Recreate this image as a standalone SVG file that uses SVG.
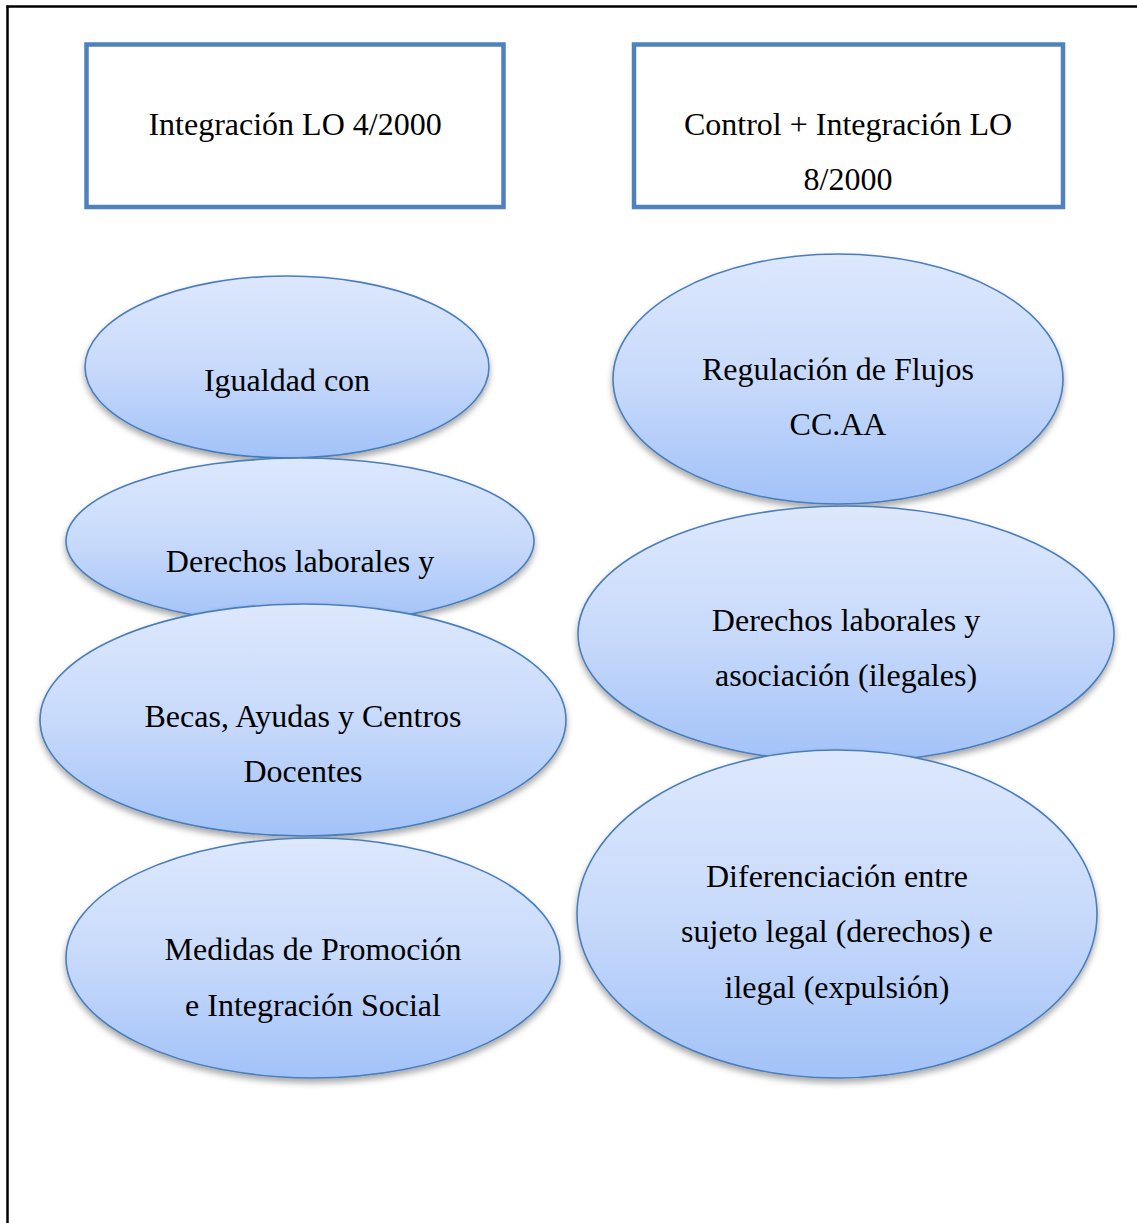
<svg xmlns="http://www.w3.org/2000/svg" width="1137" height="1223" viewBox="0 0 1137 1223">
<style>
.box{fill:#ffffff;stroke:#4f81bd;stroke-width:4.5}
.ell{fill:url(#g);stroke:#4a7ebb;stroke-width:1.6;filter:url(#sh)}
.t{font-family:"Liberation Serif","Times New Roman",serif;font-size:32px;fill:#000;text-anchor:middle}
</style>
<defs>
<linearGradient id="g" x1="0" y1="0" x2="0" y2="1">
<stop offset="0" stop-color="#dde8fd"/>
<stop offset="0.5" stop-color="#c8dafb"/>
<stop offset="1" stop-color="#a2c2f8"/>
</linearGradient>
<filter id="sh" x="-10%" y="-10%" width="120%" height="130%">
<feDropShadow dx="0" dy="4" stdDeviation="3" flood-color="#000" flood-opacity="0.35"/>
</filter>
</defs>
<g id="frame">
<line x1="6.5" y1="6.5" x2="1137" y2="6.5" stroke="#000" stroke-width="2.5"/>
<line x1="7.5" y1="5.5" x2="7.5" y2="1223" stroke="#000" stroke-width="2.5"/>
</g>
<g id="connectors"></g>
<g id="box-lo4">
<rect class="box" x="86.5" y="44.5" width="417" height="162.5"/>
<text class="t" x="295" y="135">Integración LO 4/2000</text>
</g>
<g id="box-lo8">
<rect class="box" x="634" y="44.5" width="429" height="162.5"/>
<text class="t" x="848" y="135">Control + Integración LO</text>
<text class="t" x="848" y="190">8/2000</text>
</g>
<g id="e-igualdad">
<ellipse class="ell" cx="287" cy="367" rx="202" ry="91"/>
<text class="t" x="287" y="391">Igualdad con</text>
</g>
<g id="e-derechos-l">
<ellipse class="ell" cx="300" cy="541" rx="234" ry="83"/>
<text class="t" x="300" y="572">Derechos laborales y</text>
</g>
<g id="e-becas">
<ellipse class="ell" cx="303" cy="720" rx="263" ry="116"/>
<text class="t" x="303" y="727">Becas, Ayudas y Centros</text>
<text class="t" x="303" y="782">Docentes</text>
</g>
<g id="e-medidas">
<ellipse class="ell" cx="313" cy="958" rx="247" ry="120"/>
<text class="t" x="313" y="960">Medidas de Promoción</text>
<text class="t" x="313" y="1016">e Integración Social</text>
</g>
<g id="e-regulacion">
<ellipse class="ell" cx="838" cy="379" rx="225" ry="125"/>
<text class="t" x="838" y="380">Regulación de Flujos</text>
<text class="t" x="838" y="435">CC.AA</text>
</g>
<g id="e-derechos-r">
<ellipse class="ell" cx="846" cy="634" rx="268" ry="128"/>
<text class="t" x="846" y="631">Derechos laborales y</text>
<text class="t" x="846" y="686">asociación (ilegales)</text>
</g>
<g id="e-diferenciacion">
<ellipse class="ell" cx="837" cy="914" rx="260" ry="164"/>
<text class="t" x="837" y="887">Diferenciación entre</text>
<text class="t" x="837" y="942">sujeto legal (derechos) e</text>
<text class="t" x="837" y="998">ilegal (expulsión)</text>
</g>
</svg>
